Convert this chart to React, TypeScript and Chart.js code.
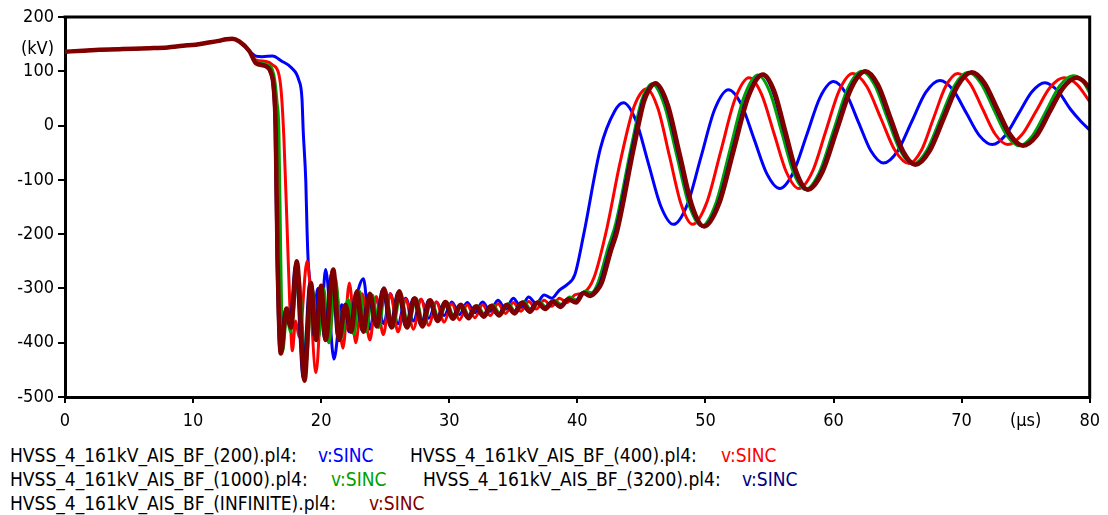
import React, { useEffect, useRef } from 'react';
import { Chart, registerables } from 'chart.js';

Chart.register(...registerables);

// ---- data (time in µs, voltage in kV) ----
const startT = [0, 1.4, 2.7, 4.5, 6.6, 8, 9.2, 10.2, 11, 12, 12.6, 13.05, 13.6, 14.4];
const startV = [136, 138, 139.5, 141, 142.5, 144, 147, 149, 152, 156, 159, 160, 155, 137];

const t200 = [14.9, 15.4, 16.2, 16.9, 17.7, 18.25, 18.5, 18.6, 18.8, 18.9, 19.0, 19.2, 19.45, 19.75, 20.0, 20.35, 21.0, 21.6, 22.2, 22.7, 23.3, 23.8, 24.3, 24.9, 25.4, 26.0, 26.6, 27.2, 27.8, 28.4, 29.0, 29.6, 30.2, 30.8, 31.4, 32.0, 32.6, 33.2, 33.8, 34.4, 35.0, 35.6, 36.2, 36.8, 37.4, 38.0, 38.6, 39.2, 39.8,
  40.5, 41.8, 42.9, 43.6, 44.575, 45.55, 46.525, 47.5, 48.575, 49.65, 50.725, 51.8, 52.8, 53.8, 54.8, 55.8, 56.85, 57.9, 58.95, 60.0, 60.975, 61.95, 62.925, 63.9, 65.0, 66.1, 67.2, 68.3, 69.325, 70.35, 71.375, 72.4, 73.425, 74.45, 75.475, 76.5, 77.5, 78.5, 79.3, 80];
const v200 = [128, 127, 128, 119, 106, 84, 50, -11, -103, -195, -256, -300, -340, -300, -350, -265, -430, -330, -380, -320, -282, -375, -320, -365, -310, -365, -318, -360, -320, -355, -325, -350, -325, -348, -326, -345, -325, -342, -322, -338, -318, -335, -316, -328, -312, -318, -303, -293, -275,
  -200, -42, 26, 42, 9, -70, -149, -182, -146, -58, 30, 66, 39, -25, -89, -116, -87, -18, 52, 81, 59, 6, -47, -69, -47, 7, 61, 83, 66, 24, -18, -35, -18, 22, 62, 79, 64, 30, 8, -8];

const t400 = [14.9, 15.7, 16.2, 16.7, 16.9, 17.1, 17.35, 17.55, 17.75, 18.0, 18.3, 18.9, 19.6, 20.1, 20.6, 21.1, 21.7, 22.2, 22.7, 23.2, 23.8, 24.3, 24.85, 25.4, 26.0, 26.6, 27.2, 27.8, 28.4, 29.0, 29.6, 30.2, 30.8, 31.4, 32.0, 32.6, 33.2, 33.8, 34.4, 35.0, 35.6, 36.2, 36.8, 37.4, 38.0, 38.6, 39.2, 39.8, 40.5, 41.3, 42.3, 43.3, 44.3, 44.9, 45.4,
  46.3, 47.2, 48.1, 49.0, 50.1, 51.2, 52.3, 53.4, 54.375, 55.35, 56.325, 57.3, 58.35, 59.4, 60.45, 61.5, 62.6, 63.7, 64.8, 65.9, 66.85, 67.8, 68.75, 69.7, 70.675, 71.65, 72.625, 73.6, 74.7, 75.8, 76.9, 78.0, 79.0, 80];
const v400 = [121, 118, 112, 94, 57, -29, -195, -330, -415, -360, -390, -250, -455, -300, -400, -290, -410, -290, -400, -310, -395, -315, -385, -310, -380, -320, -375, -320, -368, -325, -362, -328, -358, -330, -354, -330, -350, -328, -346, -326, -342, -324, -338, -322, -333, -318, -326, -312, -308, -280, -190, -72, 26, 58, 68,
  31, -57, -145, -182, -142, -47, 48, 88, 58, -14, -86, -116, -85, -10, 65, 96, 72, 13, -46, -70, -46, 13, 72, 96, 77, 30, -16, -35, -17, 26, 70, 88, 76, 44];

const t1000 = [14.9, 15.8, 16.3, 16.55, 16.7, 16.85, 17.0, 17.3, 17.6, 18.2, 18.8, 19.3, 19.8, 20.2, 20.6, 21.1, 21.6, 22.1, 22.55, 23.0, 23.5, 24.0, 24.5, 25.0, 25.6, 26.2, 26.8, 27.4, 28.0, 28.6, 29.2, 29.8, 30.4, 31.0, 31.6, 32.2, 32.8, 33.4, 34.0, 34.6, 35.2, 35.8, 36.4, 37.0, 37.6, 38.2, 38.8, 39.4, 40.0, 40.6, 41.1, 41.6, 42.4, 43.0, 44.2, 45.0, 45.4, 45.8,
  46.775, 47.75, 48.725, 49.7, 50.8, 51.9, 53.0, 54.1, 55.025, 55.95, 56.875, 57.8, 58.9, 60.0, 61.1, 62.2, 63.2, 64.2, 65.2, 66.2, 67.275, 68.35, 69.425, 70.5, 71.5, 72.5, 73.5, 74.5, 75.55, 76.6, 77.65, 78.7, 79.4, 80];
const v1000 = [118, 112, 94, 44, -11, -250, -415, -350, -380, -270, -440, -300, -390, -300, -400, -280, -390, -320, -385, -305, -380, -312, -372, -305, -372, -310, -370, -318, -368, -322, -358, -325, -355, -330, -353, -332, -350, -330, -348, -328, -344, -324, -340, -324, -335, -322, -330, -316, -322, -305, -308, -290, -225, -180, -40, 45, 66, 77,
  39, -54, -147, -185, -144, -46, 52, 93, 62, -12, -87, -118, -86, -9, 68, 100, 75, 14, -46, -71, -46, 13, 73, 98, 78, 30, -17, -37, -18, 27, 73, 92, 84, 60];

const t3200 = [14.9, 15.7, 16.05, 16.25, 16.4, 16.55, 16.8, 17.2, 17.55, 18.0, 18.6, 19.1, 19.5, 19.9, 20.25, 20.85, 21.3, 21.8, 22.25, 22.7, 23.2, 23.7, 24.25, 24.8, 25.4, 26.0, 26.6, 27.2, 27.8, 28.4, 29.0, 29.6, 30.2, 30.8, 31.4, 32.0, 32.6, 33.2, 33.8, 34.4, 35.0, 35.6, 36.2, 36.8, 37.4, 38.0, 38.6, 39.2, 39.8, 40.4, 40.9, 41.4, 41.8, 42.5, 43.0, 44.3, 45.1, 45.5, 46.0,
  46.95, 47.9, 48.85, 49.8, 50.95, 52.1, 53.25, 54.4, 55.275, 56.15, 57.025, 57.9, 59.025, 60.15, 61.275, 62.4, 63.375, 64.35, 65.325, 66.3, 67.4, 68.5, 69.6, 70.7, 71.7, 72.7, 73.7, 74.7, 75.75, 76.8, 77.85, 78.9, 79.4, 80];
const v3200 = [116, 110, 97, 72, 0, -245, -418, -340, -370, -255, -465, -292, -392, -298, -392, -268, -392, -332, -378, -308, -378, -312, -368, -302, -370, -307, -370, -318, -368, -322, -358, -326, -355, -330, -354, -333, -351, -332, -349, -330, -345, -326, -342, -326, -337, -324, -333, -320, -325, -308, -313, -304, -288, -230, -193, -40, 45, 66, 78,
  39, -54, -147, -186, -145, -46, 53, 94, 63, -12, -87, -118, -86, -9, 68, 100, 75, 14, -47, -72, -47, 13, 73, 98, 78, 30, -17, -37, -19, 26, 70, 88, 84, 70];

const tInf = [14.9, 15.7, 16.1, 16.3, 16.45, 16.6, 16.85, 17.3, 17.65, 18.1, 18.7, 19.2, 19.6, 20.0, 20.35, 20.95, 21.4, 21.9, 22.35, 22.8, 23.3, 23.8, 24.35, 24.9, 25.5, 26.1, 26.7, 27.3, 27.9, 28.5, 29.1, 29.7, 30.3, 30.9, 31.5, 32.1, 32.7, 33.3, 33.9, 34.5, 35.1, 35.7, 36.3, 36.9, 37.5, 38.1, 38.7, 39.3, 39.9, 40.5, 41.0, 41.5, 41.9, 42.6, 43.1, 44.4, 45.2, 45.6, 46.1,
  47.05, 48.0, 48.95, 49.9, 51.05, 52.2, 53.35, 54.5, 55.375, 56.25, 57.125, 58.0, 59.125, 60.25, 61.375, 62.5, 63.475, 64.45, 65.425, 66.4, 67.5, 68.6, 69.7, 70.8, 71.8, 72.8, 73.8, 74.8, 75.85, 76.9, 77.95, 79.0, 79.5, 80];
const vInf = [115, 109, 96, 69, -5, -250, -420, -337, -372, -250, -470, -290, -395, -295, -395, -265, -395, -330, -380, -305, -380, -310, -370, -300, -372, -305, -372, -318, -370, -322, -360, -325, -356, -330, -355, -333, -352, -332, -350, -330, -346, -326, -343, -326, -338, -324, -334, -320, -326, -308, -314, -305, -290, -232, -195, -42, 44, 66, 78,
  39, -54, -147, -186, -145, -46, 53, 94, 63, -12, -87, -118, -86, -9, 68, 100, 75, 14, -47, -72, -47, 13, 73, 98, 78, 30, -17, -37, -19, 26, 70, 88, 82, 68];

const xTicks = [0, 10, 20, 30, 40, 50, 60, 70, 75, 80];
const yTicks = [-500, -400, -300, -200, -100, 0, 100, 140, 200];
const xUnitTick = 75;
const yUnitTick = 140;
const xUnit = '(µs)';
const yUnit = '(kV)';

const fileNames = [
  'HVSS_4_161kV_AIS_BF_(200).pl4:',
  'HVSS_4_161kV_AIS_BF_(400).pl4:',
  'HVSS_4_161kV_AIS_BF_(1000).pl4:',
  'HVSS_4_161kV_AIS_BF_(3200).pl4:',
  'HVSS_4_161kV_AIS_BF_(INFINITE).pl4:',
];
const varName = 'v:SINC';

// ---- styling ----
const colors = ['#0000ff', '#ff0000', '#00a000', '#000080', '#800000'];
const widths = [3, 3, 3, 3, 4.5];
const legendPos = [
  { x: 10, vx: 318, y: 444 },
  { x: 410, vx: 721, y: 444 },
  { x: 10, vx: 331, y: 468 },
  { x: 423, vx: 742, y: 468 },
  { x: 10, vx: 369, y: 492 },
];
const FONT = "'DejaVu Sans Condensed', 'DejaVu Sans', sans-serif";

const zipPts = (t: number[], v: number[]) => t.map((x, i) => ({ x, y: v[i] }));

const framePlugin = {
  id: 'frame',
  afterDatasetsDraw(chart: any) {
    const { ctx, chartArea } = chart;
    const { left, top, right, bottom } = chartArea;
    ctx.save();
    ctx.strokeStyle = '#000';
    ctx.lineWidth = 3;
    ctx.beginPath();
    ctx.moveTo(left - 1.5, top);
    ctx.lineTo(right, top);
    ctx.lineTo(right, bottom + 1.5);
    ctx.stroke();
    ctx.restore();
  },
};

export default function App() {
  const ref = useRef<HTMLCanvasElement | null>(null);

  useEffect(() => {
    if (!ref.current) return;
    const series = [
      { t: t200, v: v200 },
      { t: t400, v: v400 },
      { t: t1000, v: v1000 },
      { t: t3200, v: v3200 },
      { t: tInf, v: vInf },
    ];
    const datasets = series.map((s, i) => ({
      label: fileNames[i],
      data: zipPts(startT.concat(s.t), startV.concat(s.v)),
      borderColor: colors[i],
      backgroundColor: colors[i],
      borderWidth: widths[i],
      pointRadius: 0,
      fill: false,
      order: 5 - i,
      cubicInterpolationMode: 'monotone' as const,
    }));

    const chart = new Chart(ref.current, {
      type: 'line',
      data: { datasets },
      plugins: [framePlugin],
      options: {
        animation: false,
        responsive: false,
        maintainAspectRatio: false,
        layout: { padding: { left: 0, right: 13, top: 17, bottom: 0 } },
        plugins: { legend: { display: false }, tooltip: { enabled: false } },
        elements: { line: { borderCapStyle: 'round', borderJoinStyle: 'round' } },
        scales: {
          x: {
            type: 'linear',
            min: 0,
            max: 80,
            afterBuildTicks: (s: any) => {
              s.ticks = xTicks.map((value) => ({ value }));
            },
            afterFit: (s: any) => {
              s.height = 43;
            },
            ticks: {
              autoSkip: false,
              maxRotation: 0,
              color: '#000',
              padding: 8,
              font: { family: FONT, size: 18 },
              callback: (v: any) => (v === xUnitTick ? xUnit : String(v)),
            },
            grid: {
              display: true,
              drawOnChartArea: false,
              drawTicks: true,
              tickLength: 6,
              lineWidth: 2,
              color: (c: any) => (c.tick && c.tick.value === xUnitTick ? 'rgba(0,0,0,0)' : '#000'),
            },
            border: { display: true, color: '#000', width: 3 },
          },
          y: {
            type: 'linear',
            min: -500,
            max: 200,
            afterBuildTicks: (s: any) => {
              s.ticks = yTicks.map((value) => ({ value }));
            },
            afterFit: (s: any) => {
              s.width = 65;
            },
            ticks: {
              autoSkip: false,
              color: '#000',
              padding: 4,
              font: { family: FONT, size: 18 },
              callback: (v: any) => (v === yUnitTick ? yUnit : String(v)),
            },
            grid: {
              display: true,
              drawOnChartArea: false,
              drawTicks: true,
              tickLength: 7,
              lineWidth: 2,
              color: (c: any) => (c.tick && c.tick.value === yUnitTick ? 'rgba(0,0,0,0)' : '#000'),
            },
            border: { display: true, color: '#000', width: 3 },
          },
        },
      },
    });
    return () => chart.destroy();
  }, []);

  return (
    <div style={{ position: 'absolute', left: 0, top: 0, width: 1108, height: 515, background: '#fff', overflow: 'hidden' }}>
      <canvas ref={ref} width={1108} height={440} style={{ display: 'block', width: 1108, height: 440 }} />
      {fileNames.map((name, i) => (
        <React.Fragment key={name}>
          <span style={{ position: 'absolute', left: legendPos[i].x, top: legendPos[i].y, fontFamily: FONT, fontSize: 19, lineHeight: '22px', color: '#000', whiteSpace: 'nowrap' }}>{name}</span>
          <span style={{ position: 'absolute', left: legendPos[i].vx, top: legendPos[i].y, fontFamily: FONT, fontSize: 19, lineHeight: '22px', color: colors[i], whiteSpace: 'nowrap' }}>{varName}</span>
        </React.Fragment>
      ))}
    </div>
  );
}
